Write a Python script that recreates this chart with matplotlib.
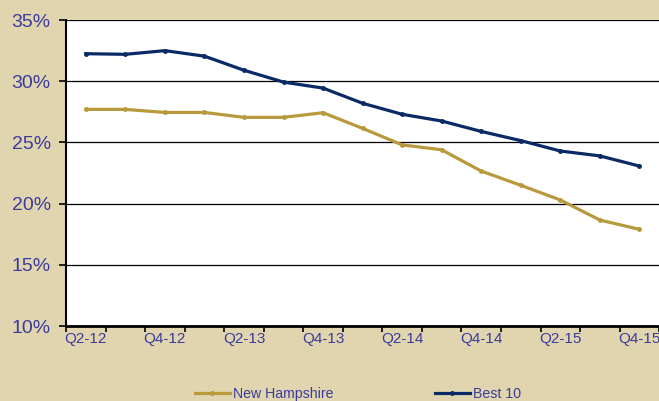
import matplotlib
matplotlib.use("Agg")
import matplotlib.pyplot as plt
import numpy as np

quarters = ["Q2-12", "Q3-12", "Q4-12", "Q1-13", "Q2-13", "Q3-13", "Q4-13", "Q1-14",
            "Q2-14", "Q3-14", "Q4-14", "Q1-15", "Q2-15", "Q3-15", "Q4-15"]
new_hampshire = [27.7, 27.7, 27.45, 27.45, 27.05, 27.05, 27.43, 26.15,
                 24.8, 24.4, 22.66, 21.5, 20.3, 18.66, 17.9]
best_10 = [32.25, 32.2, 32.5, 32.05, 30.9, 29.93, 29.44, 28.2,
           27.3, 26.75, 25.9, 25.15, 24.3, 23.9, 23.07]

bg = "#E1D5B0"
txt = "#3B3B9C"
gold = "#B89A3C"
navy = "#0A2A66"

plt.rcParams['font.family'] = ['Liberation Sans', 'DejaVu Sans']

fig = plt.figure(figsize=(6.59, 4.01), dpi=100, facecolor=bg)
ax = fig.add_axes([0.1002, 0.187, 0.9, 0.763])
ax.set_facecolor("white")

x = np.arange(len(quarters))
ax.plot(x, new_hampshire, color=gold, lw=2.3, marker="o", ms=2.5, label="New Hampshire")
ax.plot(x, best_10, color=navy, lw=2.3, marker="o", ms=2.5, label="Best 10")

ax.set_xlim(-0.5, len(quarters) - 0.5)
ax.set_ylim(10, 35)
ax.set_yticks([10, 15, 20, 25, 30, 35])
ax.set_yticklabels(["%d%%" % v for v in [10, 15, 20, 25, 30, 35]], color=txt, fontsize=14)
ax.yaxis.grid(True, color="black", lw=0.9)
ax.set_axisbelow(True)

ax.set_xticks(x[::2])
ax.set_xticklabels(quarters[::2], color=txt, fontsize=11)
ax.set_xticks(np.arange(-0.5, len(quarters), 1), minor=True)
ax.tick_params(axis="x", which="major", length=0, pad=4)
ax.tick_params(axis="x", which="minor", length=4, width=1.2, color="black", direction="out")
ax.tick_params(axis="y", length=5, width=1.2, color="black", direction="out", pad=6)

for s in ["top", "right"]:
    ax.spines[s].set_visible(False)
ax.spines["left"].set_linewidth(1.5)
ax.spines["bottom"].set_linewidth(2)

leg = fig.legend(loc="center", bbox_to_anchor=(0.543, 0.017), ncol=2, frameon=False,
                 fontsize=10.2, handlelength=2.45, handletextpad=0.2, columnspacing=7.2)
for t in leg.get_texts():
    t.set_color(txt)

fig.savefig("out.png", dpi=100, facecolor=bg)
